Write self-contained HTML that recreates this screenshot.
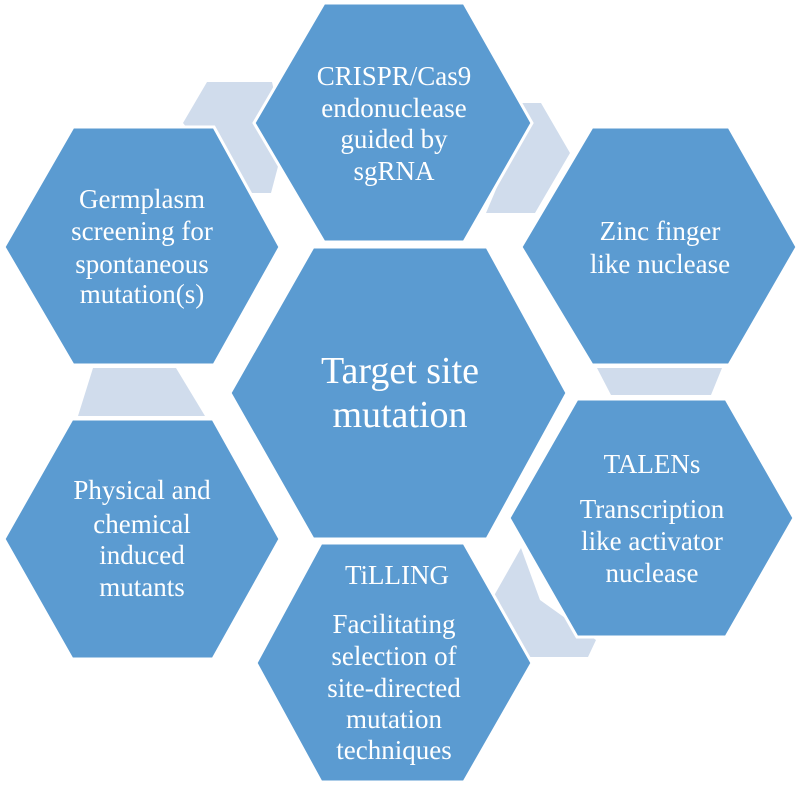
<!DOCTYPE html>
<html><head><meta charset="utf-8"><style>
html,body{margin:0;padding:0;background:#fff;}
svg{display:block;}
svg text{font-family:"Liberation Serif","Noto Serif CJK SC",serif;fill:#fff;text-anchor:middle;}
</style></head><body>
<svg width="800" height="786" viewBox="0 0 800 786" xmlns="http://www.w3.org/2000/svg">
<g fill="#d0dcec">
<polygon points="183,123 207,82 272,82 285,140 271,193 240,193"/>
<polygon points="520,103 541,103 570,153 535,213 486,213 500,180"/>
<polygon points="597,368 722,368 711,395 611,395"/>
<polygon points="521,548 491,601 522,657 588,657 596,640 540,600"/>
<polygon points="93,368 176,368 205,416 78,416"/>
</g>
<g fill="#5b9bd1" stroke="#fff" stroke-width="3" stroke-linejoin="miter">
<polygon points="324,3 464,3 532,123 464,242 324,242 254,123"/>
<polygon points="73,127 214,127 280,247 214,365 73,365 4,247"/>
<polygon points="592,127 729,127 797,247 729,365 592,365 521,247"/>
<polygon points="313,247 487,247 567,393 487,539 313,539 230,393"/>
<polygon points="72,419 213,419 280,539 213,659 72,659 4,539"/>
<polygon points="577,399 726,399 794,518 726,637 577,637 509,518"/>
<polygon points="321,543 464,543 532,663 464,782 321,782 256,663"/>
</g>
<g font-size="27">
<text x="394" y="85">CRISPR/Cas9</text>
<text x="394" y="117">endonuclease</text>
<text x="394" y="148">guided by</text>
<text x="394" y="180">sgRNA</text>
<text x="142" y="208">Germplasm</text>
<text x="142" y="240">screening for</text>
<text x="142" y="273">spontaneous</text>
<text x="142" y="303">mutation(s)</text>
<text x="660" y="240">Zinc finger</text>
<text x="660" y="273">like nuclease</text>
<text x="142" y="499">Physical and</text>
<text x="142" y="533">chemical</text>
<text x="142" y="564">induced</text>
<text x="142" y="596">mutants</text>
<text x="652" y="473">TALENs</text>
<text x="652" y="518">Transcription</text>
<text x="652" y="550">like activator</text>
<text x="652" y="582">nuclease</text>
<text x="397" y="584">TiLLING</text>
<text x="394" y="633">Facilitating</text>
<text x="394" y="665">selection of</text>
<text x="394" y="697">site-directed</text>
<text x="394" y="728">mutation</text>
<text x="394" y="759">techniques</text>
</g>
<g font-size="38">
<text x="400" y="383">Target site</text>
<text x="400" y="427">mutation</text>
</g>
</svg>
</body></html>
